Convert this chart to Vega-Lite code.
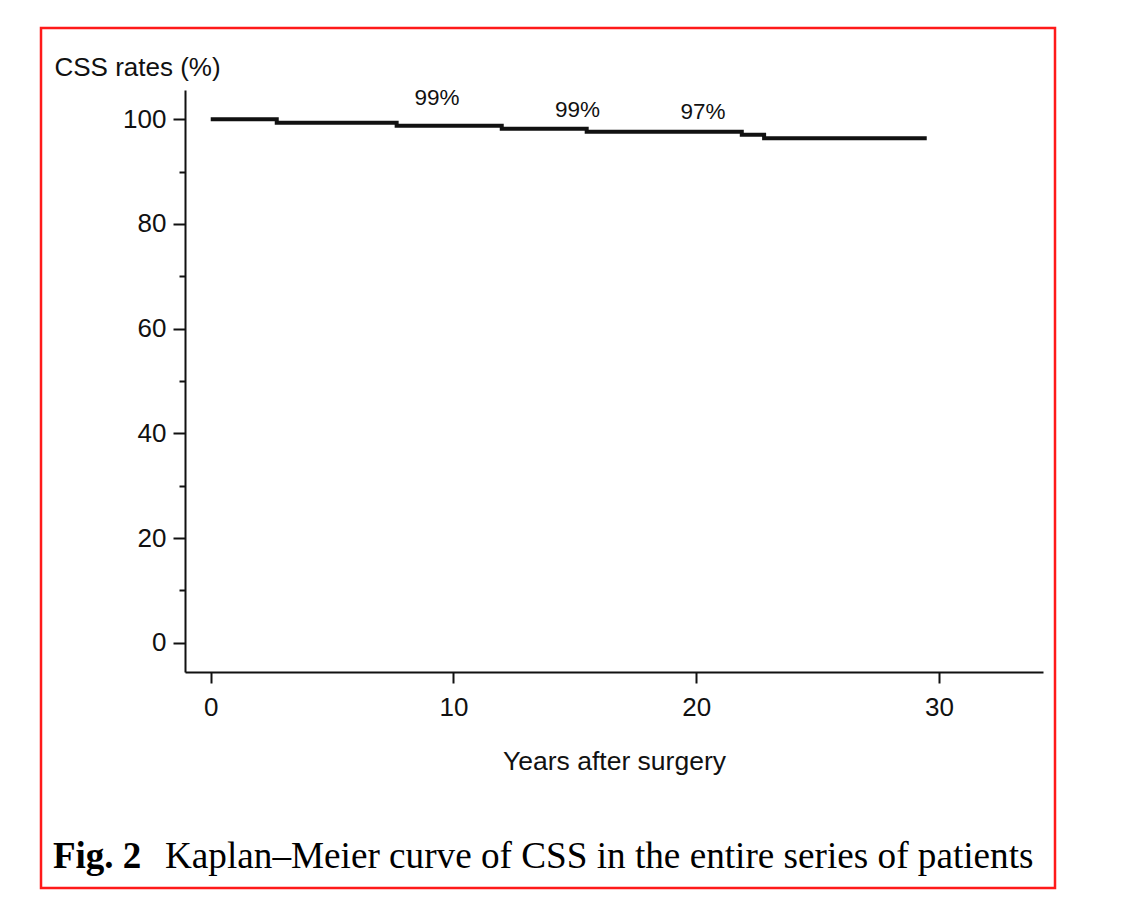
{
  "$schema": "https://vega.github.io/schema/vega-lite/v6.json",
  "width": 1014,
  "height": 860,
  "autosize": "none",
  "padding": {"left": 41, "top": 28, "right": 70, "bottom": 20},
  "background": "white",
  "config": {
    "view": {"stroke": "#ff1a1a", "strokeWidth": 2.5},
    "font": "Liberation Sans"
  },
  "datasets": {
    "curve": [
      {"year": 0, "rate": 100},
      {"year": 2.72, "rate": 99.35},
      {"year": 7.66, "rate": 98.78},
      {"year": 11.99, "rate": 98.2},
      {"year": 15.49, "rate": 97.63},
      {"year": 21.88, "rate": 97.06},
      {"year": 22.8, "rate": 96.4},
      {"year": 29.5, "rate": 96.4}
    ],
    "labels": [
      {"year": 9.32, "rate": 102.7, "label": "99%"},
      {"year": 15.11, "rate": 100.5, "label": "99%"},
      {"year": 20.28, "rate": 100.0, "label": "97%"}
    ]
  },
  "resolve": {"axis": {"y": "independent"}},
  "layer": [
    {
      "data": {"name": "curve"},
      "mark": {"type": "line", "interpolate": "step-after", "color": "#111111", "strokeWidth": 4, "strokeCap": "butt"},
      "encoding": {
        "x": {
          "field": "year", "type": "quantitative",
          "scale": {"domain": [-1.06, 34.29], "range": [144, 1002], "nice": false, "zero": false},
          "axis": {
            "values": [0, 10, 20, 30], "offset": -216, "grid": false,
            "domainColor": "#111111", "domainWidth": 2, "tickColor": "#111111", "tickWidth": 2, "tickSize": 11,
            "labelFontSize": 26, "labelColor": "#111111", "labelPadding": 11, "labelFont": "Liberation Sans",
            "title": "Years after surgery", "titleFontSize": 26.5, "titleFontWeight": "normal", "titleColor": "#111111",
            "titleFont": "Liberation Sans", "titleBaseline": "alphabetic", "titleY": 97
          }
        },
        "y": {
          "field": "rate", "type": "quantitative",
          "scale": {"domain": [-5.6, 105.6], "range": [644, 62], "nice": false, "zero": false},
          "axis": {
            "orient": "left",
            "values": [0, 20, 40, 60, 80, 100], "offset": -144, "grid": false,
            "domainColor": "#111111", "domainWidth": 2, "tickColor": "#111111", "tickWidth": 2, "tickSize": 12,
            "labelFontSize": 26, "labelColor": "#111111", "labelPadding": 7, "labelFont": "Liberation Sans",
            "title": "CSS rates (%)", "titleFontSize": 26, "titleFontWeight": "normal", "titleColor": "#111111",
            "titleFont": "Liberation Sans", "titleAngle": 0, "titleAlign": "left", "titleBaseline": "alphabetic",
            "titleX": -131, "titleY": 47
          }
        }
      }
    },
    {
      "data": {"name": "labels"},
      "mark": {"type": "text", "fontSize": 22.5, "color": "#111111", "align": "center", "baseline": "alphabetic", "font": "Liberation Sans"},
      "encoding": {
        "x": {"field": "year", "type": "quantitative"},
        "y": {
          "field": "rate", "type": "quantitative",
          "axis": {
            "orient": "left",
            "values": [10, 30, 50, 70, 90], "offset": -144, "grid": false, "domain": false, "labels": false,
            "tickColor": "#111111", "tickWidth": 2, "tickSize": 6, "title": null
          }
        },
        "text": {"field": "label"}
      }
    },
    {
      "data": {"values": [{}]},
      "mark": {"type": "text", "text": "Fig. 2", "font": "Liberation Serif", "fontWeight": "bold", "fontSize": 37, "color": "#000000", "align": "left", "baseline": "alphabetic"},
      "encoding": {
        "x": {"datum": -6.5, "type": "quantitative"},
        "y": {"datum": -43.05, "type": "quantitative", "axis": null}
      }
    },
    {
      "data": {"values": [{}]},
      "mark": {"type": "text", "text": "Kaplan–Meier curve of CSS in the entire series of patients", "font": "Liberation Serif", "fontSize": 37.2, "color": "#000000", "align": "left", "baseline": "alphabetic"},
      "encoding": {
        "x": {"datum": -1.884, "type": "quantitative"},
        "y": {"datum": -43.05, "type": "quantitative", "axis": null}
      }
    }
  ]
}
